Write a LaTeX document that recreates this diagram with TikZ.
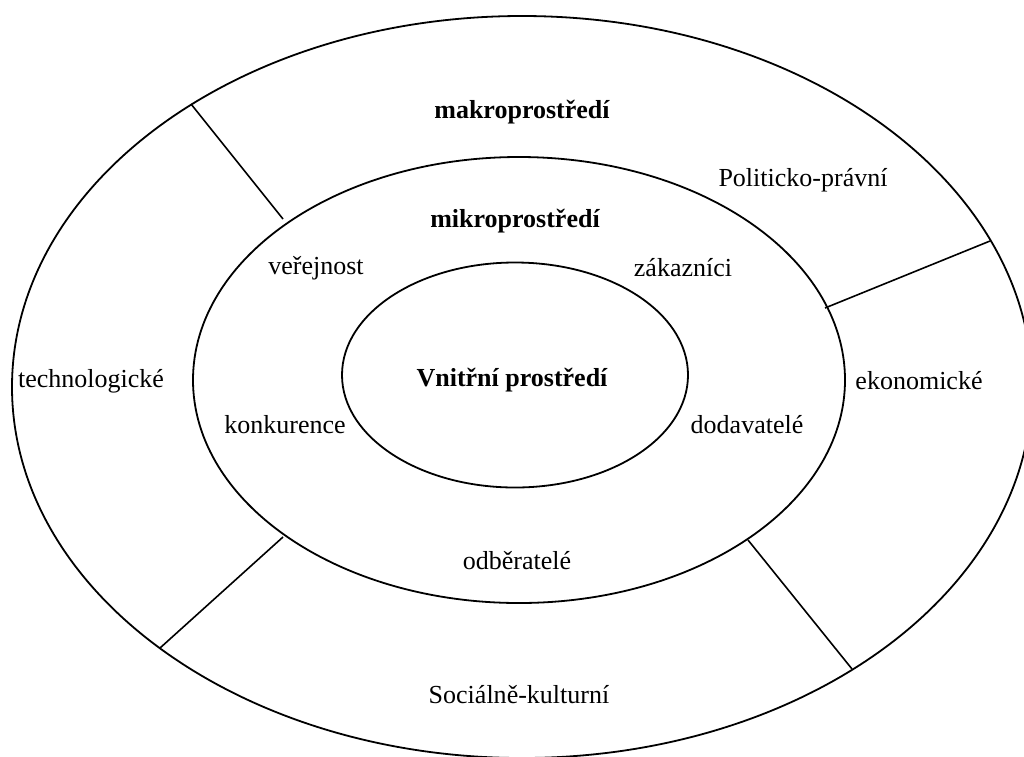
\documentclass[tikz,border=0pt]{standalone}
\usepackage{fontspec}
\setmainfont{Liberation Serif}
\usetikzlibrary{shapes.geometric}
\begin{document}
\begin{tikzpicture}[x=1pt,y=-1pt,
  ring/.style={draw,ellipse,line width=1.8pt,inner sep=0pt},
  sep/.style={line width=1.6pt},
  lbl/.style={font=\fontsize{26}{30}\selectfont,inner sep=0pt},
  blbl/.style={font=\fontsize{26}{30}\selectfont\bfseries,inner sep=0pt}]
\useasboundingbox (0,0) rectangle (1024,756);
\node[ring,minimum width=1020pt,minimum height=742pt] (outer) at (522,387) {};
\node[ring,minimum width=652pt,minimum height=446pt] (mid) at (519,380) {};
\node[ring,minimum width=346pt,minimum height=225pt] (inner) at (515,375) {};
\coordinate (ulo) at (191,104);
\coordinate (uli) at (283,219);
\coordinate (uro) at (990,241);
\coordinate (uri) at (825,308);
\coordinate (llo) at (160,648);
\coordinate (lli) at (283,537);
\coordinate (lro) at (852,669);
\coordinate (lri) at (748,540);
\draw[sep] (ulo) -- (uli);
\draw[sep] (uro) -- (uri);
\draw[sep] (llo) -- (lli);
\draw[sep] (lro) -- (lri);
\node[blbl] (makro) at (522,112) {makroprostředí};
\node[lbl] (polit) at (803,180) {Politicko-právní};
\node[blbl] (mikro) at (515,221) {mikroprostředí};
\node[lbl] (verej) at (316,268) {veřejnost};
\node[lbl] (zakaz) at (683,268) {zákazníci};
\node[lbl] (tech) at (91,381) {technologické};
\node[blbl] (vnitr) at (512,380) {Vnitřní prostředí};
\node[lbl] (ekon) at (919,381) {ekonomické};
\node[lbl] (konk) at (285,425) {konkurence};
\node[lbl] (dodav) at (747,425) {dodavatelé};
\node[lbl] (odber) at (517,561) {odběratelé};
\node[lbl] (soc) at (519,695) {Sociálně-kulturní};
\end{tikzpicture}
\end{document}
